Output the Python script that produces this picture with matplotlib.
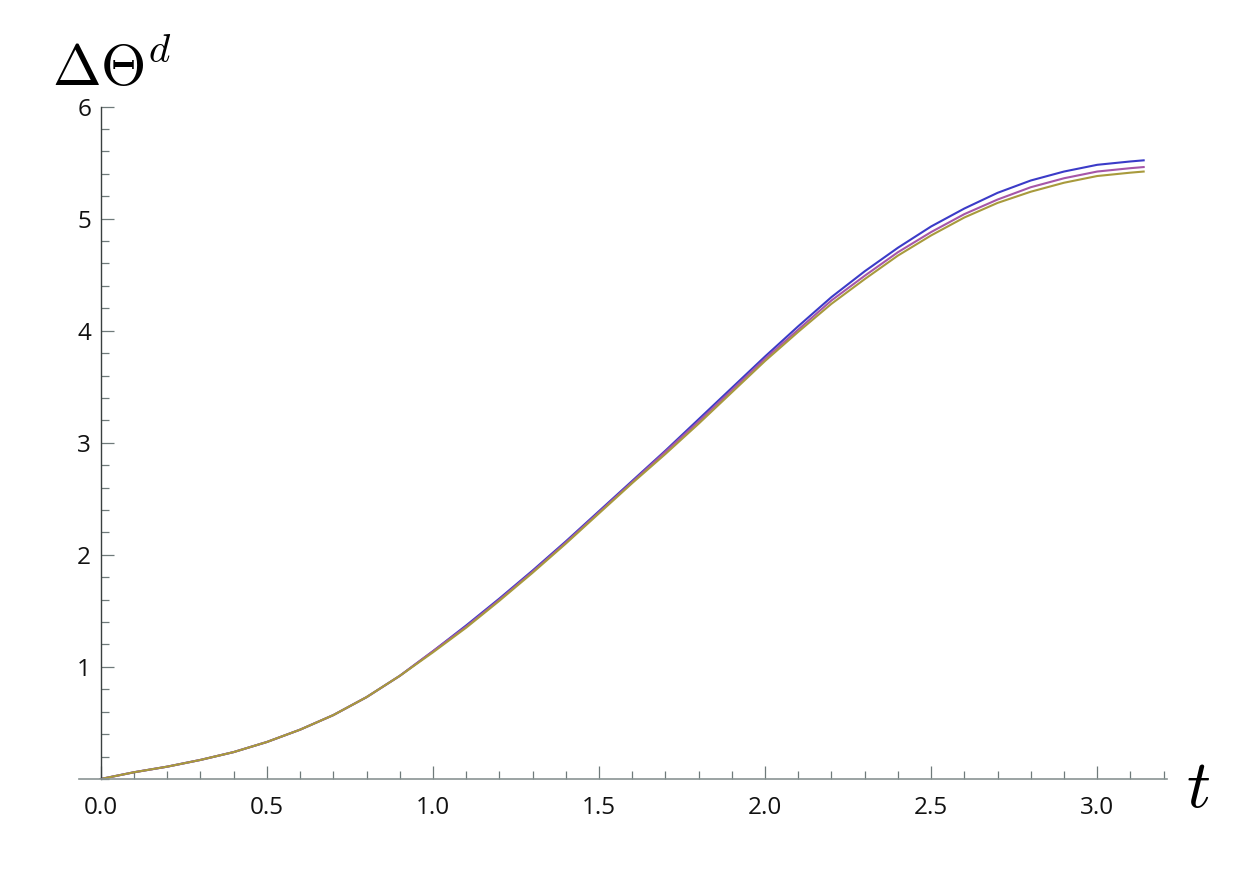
import matplotlib
matplotlib.use('Agg')
import matplotlib.pyplot as plt
from matplotlib.ticker import MultipleLocator

# values
t = [0.0, 0.1, 0.2, 0.3, 0.4, 0.5, 0.6, 0.7, 0.8, 0.9, 1.0, 1.1, 1.2, 1.3,
     1.4, 1.5, 1.6, 1.7, 1.8, 1.9, 2.0, 2.1, 2.2, 2.3, 2.4, 2.5, 2.6, 2.7,
     2.8, 2.9, 3.0, 3.1, 3.14]
theta_blue = [0.0, 0.06, 0.11, 0.17, 0.24, 0.33, 0.44, 0.57, 0.73, 0.92, 1.14,
              1.37, 1.61, 1.86, 2.12, 2.39, 2.66, 2.93, 3.21, 3.49, 3.77, 4.04,
              4.30, 4.53, 4.74, 4.93, 5.09, 5.23, 5.34, 5.42, 5.48, 5.51, 5.52]
theta_purple = [0.0, 0.06, 0.11, 0.17, 0.24, 0.33, 0.44, 0.57, 0.73, 0.92, 1.14,
                1.36, 1.60, 1.85, 2.11, 2.38, 2.65, 2.92, 3.19, 3.47, 3.75, 4.01,
                4.27, 4.49, 4.70, 4.88, 5.04, 5.17, 5.28, 5.36, 5.42, 5.45, 5.46]
theta_olive = [0.0, 0.06, 0.11, 0.17, 0.24, 0.33, 0.44, 0.57, 0.73, 0.92, 1.13,
               1.35, 1.59, 1.84, 2.10, 2.37, 2.64, 2.90, 3.17, 3.45, 3.73, 3.99,
               4.24, 4.46, 4.67, 4.85, 5.01, 5.14, 5.24, 5.32, 5.38, 5.41, 5.42]

plt.rcParams['mathtext.fontset'] = 'cm'
plt.rcParams['font.family'] = 'Open Sans'

fig = plt.figure(figsize=(12.53, 8.69), dpi=100)
ax = fig.add_axes([0.063, 0.1036, 0.8683, 0.7738])

ax.plot(t, theta_blue, color='#3b3bc8', lw=1.5)
ax.plot(t, theta_purple, color='#a656a8', lw=1.5)
ax.plot(t, theta_olive, color='#a89a3c', lw=1.5)

ax.set_xlim(-0.066, 3.21)
ax.set_ylim(0, 6)

for s in ['top', 'right']:
    ax.spines[s].set_visible(False)
ax.spines['left'].set_position(('data', 0))
ax.spines['left'].set_color('#3a4040')
ax.spines['bottom'].set_color('#8a9494')
ax.spines['left'].set_linewidth(1.0)
ax.spines['bottom'].set_linewidth(1.2)

ax.xaxis.set_major_locator(MultipleLocator(0.5))
ax.xaxis.set_minor_locator(MultipleLocator(0.1))
ax.yaxis.set_major_locator(MultipleLocator(1))
ax.yaxis.set_minor_locator(MultipleLocator(0.2))
ax.set_xticks([0.0, 0.5, 1.0, 1.5, 2.0, 2.5, 3.0])
ax.set_xticklabels(['0.0', '0.5', '1.0', '1.5', '2.0', '2.5', '3.0'])
ax.set_yticks([1, 2, 3, 4, 5, 6])
ax.set_yticklabels(['1', '2', '3', '4', '5', '6'])

ax.tick_params(which='both', direction='in', colors='#6f7a7a', width=0.9,
               labelcolor='#111111', labelsize=17.5)
ax.tick_params(which='major', length=9.4)
ax.tick_params(which='minor', length=5.8)
ax.tick_params(axis='x', pad=12)
ax.tick_params(axis='y', pad=7)

fig.text(52 / 1253, 1 - 86 / 869, r'$\Delta\Theta^d$', fontsize=42,
         va='baseline', ha='left')
fig.text(1186 / 1253, 1 - 807 / 869, r'$t$', fontsize=48,
         va='baseline', ha='left')

fig.savefig('out.png', dpi=100, facecolor='white')
